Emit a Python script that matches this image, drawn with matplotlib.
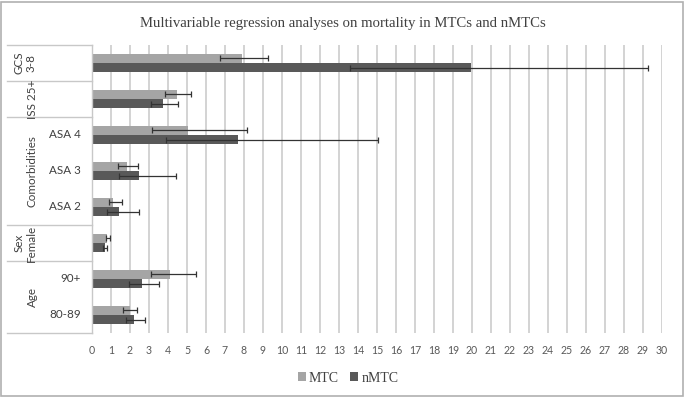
import matplotlib
matplotlib.use("Agg")
import matplotlib.pyplot as plt
import matplotlib.transforms as mtransforms
import numpy as np

# categories bottom -> top
categories = ["80-89", "90+", "", "ASA 2", "ASA 3", "ASA 4", "", ""]
groups = ["Age", "Sex\nFemale", "Comorbidities", "ISS 25+", "GCS\n3-8"]

mtc_vals = [2.0, 4.1, 0.81, 1.12, 1.82, 5.03, 4.46, 7.88]
mtc_lo = [1.65, 3.09, 0.72, 0.91, 1.39, 3.14, 3.84, 6.74]
mtc_hi = [2.35, 5.47, 0.95, 1.60, 2.40, 8.14, 5.19, 9.25]

nmtc_vals = [2.21, 2.61, 0.68, 1.42, 2.49, 7.67, 3.72, 19.95]
nmtc_lo = [1.77, 1.95, 0.56, 0.81, 1.42, 3.89, 3.09, 13.6]
nmtc_hi = [2.79, 3.53, 0.81, 2.49, 4.42, 15.04, 4.54, 29.28]

xticks = list(range(0, 31))

W, H = 685, 397
fig = plt.figure(figsize=(W / 100, H / 100), dpi=100)
ax = fig.add_axes([92 / W, 1 - 333 / H, 570 / W, 288 / H])

c_mtc = "#a5a5a5"
c_nmtc = "#595959"
y = np.arange(len(categories))
bh = 0.26

mv = np.array(mtc_vals); nv = np.array(nmtc_vals)
ax.barh(y + bh / 2, mv, height=bh, color=c_mtc, label="MTC", zorder=2)
ax.barh(y - bh / 2, nv, height=bh, color=c_nmtc, label="nMTC", zorder=2)
ax.errorbar(mv, y + bh / 2, xerr=[mv - np.array(mtc_lo), np.array(mtc_hi) - mv],
            fmt="none", ecolor="#333333", elinewidth=0.9, capsize=2.2, capthick=0.9, zorder=3)
ax.errorbar(nv, y - bh / 2, xerr=[nv - np.array(nmtc_lo), np.array(nmtc_hi) - nv],
            fmt="none", ecolor="#333333", elinewidth=0.9, capsize=2.2, capthick=0.9, zorder=3)

ax.set_xlim(0, 30)
ax.set_ylim(-0.5, len(categories) - 0.5)
ax.set_xticks(xticks)
ax.set_xticklabels([str(t) for t in xticks], family="Lato", fontsize=7.6, color="#595959")
ax.tick_params(axis="x", length=0, pad=9)
ax.set_yticks([])
for s in ["top", "right", "bottom"]:
    ax.spines[s].set_visible(False)
ax.spines["left"].set_color("#c8c8c8")
ax.spines["left"].set_linewidth(1.0)
ax.grid(axis="x", color="#d0d0d0", linewidth=1.3, zorder=0)
ax.set_axisbelow(True)

# category label region
tr = mtransforms.blended_transform_factory(ax.transAxes, ax.transData)
x0 = (7 - 92) / 570
for yb in [7.5, 6.5, 5.5, 2.5, 1.5, -0.5]:
    ax.plot([x0, 0], [yb, yb], transform=tr, color="#c8c8c8", lw=1.0, clip_on=False)

xin = (81 - 92) / 570
for yi, lab in zip(y, categories):
    if lab:
        ax.text(xin, yi, lab, transform=tr, ha="right", va="center",
                family="Lato", fontsize=8.4, color="#404040")

xg = (32 - 92) / 570
xg2 = (25 - 92) / 570
group_pos = [0.5, 2, 4, 6, 7]
group_x = [xg, xg2, xg, xg, xg2]
for gp, gx, gl in zip(group_pos, group_x, groups):
    ax.text(gx, gp, gl, transform=tr, ha="center", va="center", rotation=90,
            family="Lato", fontsize=8.4, color="#404040", linespacing=1.1)

fig.text(0.5, 1 - 24 / H, "Multivariable regression analyses on mortality in MTCs and nMTCs",
         ha="center", va="center", family="Liberation Serif", fontsize=10.6, color="#404040")

leg = fig.legend(loc="center", bbox_to_anchor=(348 / W, 1 - 378 / H), ncol=2, frameon=False,
                 prop={"family": "Liberation Serif", "size": 10}, handlelength=0.6,
                 handleheight=0.6, handletextpad=0.2, columnspacing=0.8)
for t in leg.get_texts():
    t.set_color("#404040")

# outer border
fig.patches.append(plt.Rectangle((1 / W, 1 / H), (W - 3) / W, (H - 3) / H, transform=fig.transFigure,
                                 fill=False, edgecolor="#b0b0b0", linewidth=1.2))

fig.savefig("out.png", dpi=100)
